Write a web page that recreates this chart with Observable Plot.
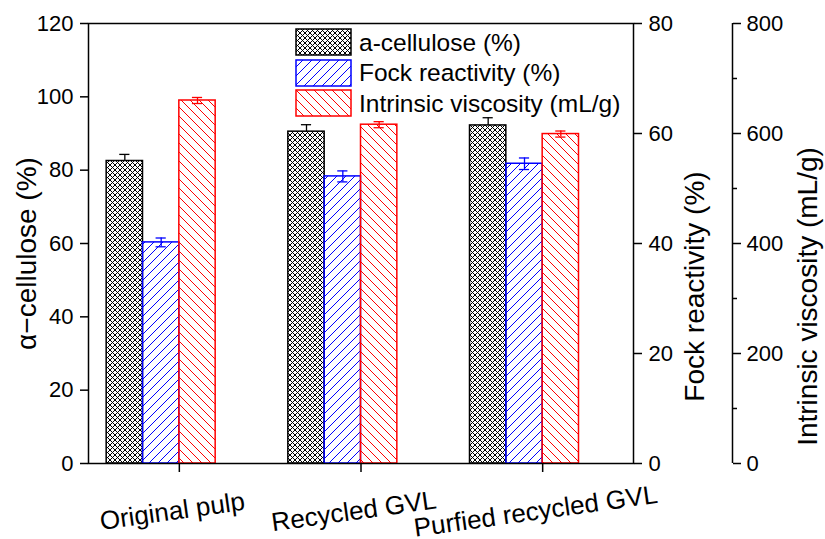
<!DOCTYPE html>
<html><head><meta charset="utf-8">
<script src="https://cdn.jsdelivr.net/npm/d3@7"></script>
<script src="https://cdn.jsdelivr.net/npm/@observablehq/plot@0.6"></script>
<style>
html,body{margin:0;padding:0;background:#fff;}
#wrap{position:relative;width:825px;height:539px;font-family:"Liberation Sans",Arial,sans-serif;color:#000;}
#legend{position:absolute;left:295px;top:27.5px;}
.row{display:flex;align-items:center;height:30.5px;}
.row svg{display:block;}
.row span{margin-left:6px;font-size:24.5px;line-height:1;white-space:nowrap;}
</style></head>
<body>
<svg width="0" height="0" style="position:absolute">
<defs>
<pattern id="pat-cross" patternUnits="userSpaceOnUse" width="5" height="5">
<rect width="5" height="5" fill="#fff"/>
<path d="M0,0L5,5M5,0L0,5" stroke="#000" stroke-width="1"/>
</pattern>
<pattern id="pat-blue" patternUnits="userSpaceOnUse" width="9" height="9">
<path d="M0,9L9,0M-2,2L2,-2M7,11L11,7" stroke="#0000ff" stroke-width="1"/>
</pattern>
<pattern id="pat-red" patternUnits="userSpaceOnUse" width="9" height="9">
<path d="M0,0L9,9M-2,7L2,11M7,-2L11,2" stroke="#ff0000" stroke-width="1"/>
</pattern>
</defs>
</svg>
<div id="wrap"><div id="legend"></div></div>
<script>
// ---- data ----
const groups = ["Original pulp", "Recycled GVL", "Purfied recycled GVL"];
const cellulose = [82.5, 90.5, 92.2];
const celluloseErr = [1.8, 1.9, 2.1];
const fock = [40.2, 52.2, 54.5];
const fockErr = [0.8, 1.0, 1.05];
const viscosity = [660, 616, 599];
const viscosityErr = [5.5, 5.5, 5.5];
const seriesNames = ["a-cellulose (%)", "Fock reactivity (%)", "Intrinsic viscosity (mL/g)"];
const celluloseTicks = [0, 20, 40, 60, 80, 100, 120];
const fockTicks = [0, 20, 40, 60, 80];
const viscosityTicks = [0, 200, 400, 600, 800];
const viscosityMinor = [100, 300, 500, 700];

// ---- layout / styles ----
const yMax = 120, fockMax = 80, viscMax = 800;
const xDomain = [0.5, 3.5];
const barW = 0.2, capHalf = 0.028;
const series = [
  {name: seriesNames[0], values: cellulose, errs: celluloseErr, k: 1, offset: -0.4, fill: "url(#pat-cross)", stroke: "#000000"},
  {name: seriesNames[1], values: fock, errs: fockErr, k: yMax / fockMax, offset: -0.2, fill: "url(#pat-blue)", stroke: "#0000ff"},
  {name: seriesNames[2], values: viscosity, errs: viscosityErr, k: yMax / viscMax, offset: 0, fill: "url(#pat-red)", stroke: "#ff0000"}
];

const marks = [];
for (const s of series) {
  const rows = groups.map((g, i) => ({
    g, x1: i + 1 + s.offset, x2: i + 1 + s.offset + barW, xc: i + 1 + s.offset + barW / 2,
    v: s.values[i] * s.k, lo: (s.values[i] - s.errs[i]) * s.k, hi: (s.values[i] + s.errs[i]) * s.k
  }));
  marks.push(
    Plot.ruleX(rows, {x: "xc", y1: "lo", y2: "hi", stroke: s.stroke, strokeWidth: 1.3}),
    Plot.ruleY(rows, {x1: d => d.xc - capHalf, x2: d => d.xc + capHalf, y: "hi", stroke: s.stroke, strokeWidth: 1.3}),
    Plot.ruleY(rows, {x1: d => d.xc - capHalf, x2: d => d.xc + capHalf, y: "lo", stroke: s.stroke, strokeWidth: 1.3}),
    Plot.rectY(rows, {x1: "x1", x2: "x2", y1: 0, y2: "v", fill: s.fill, stroke: s.stroke, strokeWidth: 1.5})
  );
}

const font = {fontSize: 22};
const plot = Plot.plot({
  width: 825, height: 539,
  marginLeft: 88, marginRight: 192, marginTop: 23, marginBottom: 76,
  style: {fontFamily: '"Liberation Sans", Arial, sans-serif', fontSize: "22px", color: "#000", background: "transparent", overflow: "visible"},
  x: {type: "linear", domain: xDomain},
  y: {domain: [0, yMax]},
  marks: [
    ...marks,
    Plot.frame({stroke: "#000", strokeWidth: 1.5}),
    // x axis ticks and rotated labels
    Plot.axisX([1, 2, 3], {tickSize: 9, fill: "none", strokeWidth: 1.5}),
    Plot.text(groups, {x: (d, i) => i + 1, frameAnchor: "bottom", dx: -7, dy: 48, rotate: -8, textAnchor: "middle", lineAnchor: "middle", fontSize: 26}),
    // left axis
    Plot.axisY(celluloseTicks, {anchor: "left", tickSize: 8, tickPadding: 7, strokeWidth: 1.5, label: null, ...font}),
    Plot.text(["α−cellulose (%)"], {frameAnchor: "left", dx: -61, dy: 10, rotate: -90, textAnchor: "middle", lineAnchor: "middle", fontSize: 28}),
    // Fock axis (right)
    Plot.axisY(fockTicks.map(v => v * yMax / fockMax), {anchor: "right", tickSize: 8, tickPadding: 7, strokeWidth: 1.5, label: null, tickFormat: v => Math.round(v * fockMax / yMax), ...font}),
    Plot.text(["Fock reactivity (%)"], {frameAnchor: "right", dx: 62, dy: 43, rotate: -90, textAnchor: "middle", lineAnchor: "middle", fontSize: 28}),
    // Viscosity axis (offset right)
    Plot.ruleX([xDomain[1]], {y1: 0, y2: yMax, dx: 99, stroke: "#000", strokeWidth: 1.5}),
    Plot.axisY(viscosityTicks.map(v => v * yMax / viscMax), {anchor: "right", dx: 99, tickSize: 8, tickPadding: 6, strokeWidth: 1.5, label: null, tickFormat: v => Math.round(v * viscMax / yMax), ...font}),
    Plot.axisY(viscosityMinor.map(v => v * yMax / viscMax), {anchor: "right", dx: 99, tickSize: 4, fill: "none", strokeWidth: 1.5, label: null}),
    Plot.text(["Intrinsic viscosity (mL/g)"], {frameAnchor: "right", dx: 175, dy: 53, rotate: -90, textAnchor: "middle", lineAnchor: "middle", fontSize: 28})
  ]
});
document.getElementById("wrap").prepend(plot);

// legend
const legend = document.getElementById("legend");
for (const s of series) {
  const row = document.createElement("div");
  row.className = "row";
  row.innerHTML = `<svg width="58" height="29"><rect x="1" y="1" width="55" height="26" fill="${s.fill}" stroke="${s.stroke}" stroke-width="1.5"/></svg><span>${s.name}</span>`;
  legend.appendChild(row);
}
</script>
</body></html>
